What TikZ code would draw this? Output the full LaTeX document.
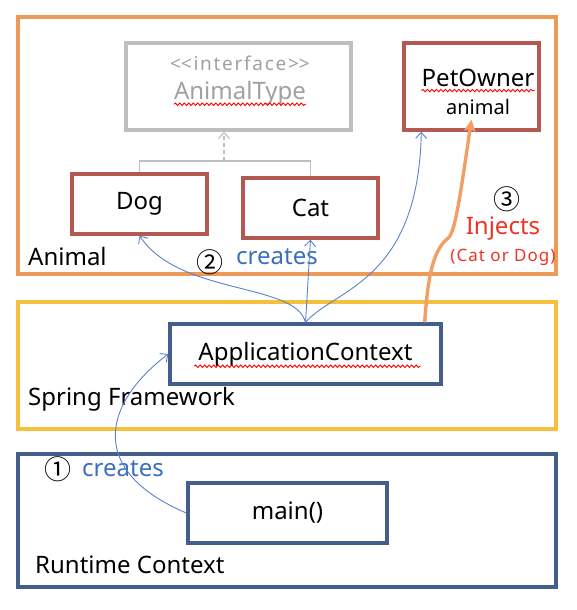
\documentclass[tikz,border=0pt]{standalone}
\usepackage{fontspec}
\setmainfont{Noto Sans}
\newfontfamily\cjk{Noto Sans CJK KR}
\usetikzlibrary{arrows.meta,decorations.pathmorphing}
\definecolor{animalline}{RGB}{237,154,86}
\definecolor{springline}{RGB}{246,191,64}
\definecolor{navyline}{RGB}{68,94,140}
\definecolor{classred}{RGB}{180,88,82}
\definecolor{ifacegray}{RGB}{191,191,191}
\definecolor{ifacetext}{RGB}{160,160,160}
\definecolor{makeblue}{RGB}{90,130,200}
\definecolor{maketext}{RGB}{58,110,190}
\definecolor{injectred}{RGB}{238,51,36}
\definecolor{injectline}{RGB}{240,160,100}

\begin{document}
\begin{tikzpicture}[x=1pt, y=1pt,
		frame/.style={draw, line width=3.2pt, minimum width=538pt, inner sep=0pt},
		cls/.style={draw=classred, line width=3.4pt, fill=white, minimum width=135pt, minimum height=60pt, inner sep=0pt, font=\fontsize{24}{28}\selectfont},
		ctx/.style={draw=navyline, line width=3.4pt, fill=white, minimum height=60pt, inner sep=0pt, font=\fontsize{24}{28}\selectfont},
		txt/.style={inner sep=0pt, font=\fontsize{24}{28}\selectfont},
		num/.style={inner sep=0pt, font=\cjk\fontsize{27}{30}\selectfont},
		wavy/.style={draw=red, line width=0.9pt, decorate, decoration={snake, amplitude=1.2pt, segment length=4.5pt}},
		make/.style={draw=makeblue, line width=0.9pt, -{Straight Barb[length=6pt, width=11pt]}},
		umlline/.style={draw=ifacegray, line width=1.1pt}
	]
			%%%%% START %%%%%
			
			\useasboundingbox (0, 0) rectangle (576, -610);
			
			% containers
			\node[frame, draw=animalline, minimum height=257pt] (animalbox) at (287, -145.5) {};
			\node[frame, draw=springline, minimum height=127pt] (springbox) at (287, -365.5) {};
			\node[frame, draw=navyline, minimum height=133pt] (runtimebox) at (287, -520.5) {};
			
			\node[txt, anchor=west] (animallbl) at (28, -256) {Animal};
			\node[txt, anchor=west] (springlbl) at (28, -399) {Spring Framework};
			\node[txt, anchor=west] (runtimelbl) at (35, -565) {Runtime Context};
			
			% classes
			\node[draw=ifacegray, line width=3.4pt, minimum width=225pt, minimum height=87pt] (iface) at (238.5, -86.5) {};
			\node[inner sep=0pt, text=ifacetext, font=\fontsize{19}{22}\selectfont\addfontfeatures{LetterSpace=9}] (ifacetag) at (240, -63) {<\kern0pt<interface>\kern0pt>};
			\node[txt, text=ifacetext] (ifacename) at (240, -93) {AnimalType};
			
			\node[cls, minimum height=87pt] (petowner) at (471.5, -86.5) {};
			\node[txt] (petname) at (478, -78) {PetOwner};
			\node[inner sep=0pt, font=\fontsize{20}{24}\selectfont] (petfield) at (478, -107) {animal};
			
			\node[cls] (dog) at (139.5, -204) {Dog};
			\node[cls] (cat) at (310.5, -208) {Cat};
			
			\coordinate (fork) at (224, -161);
			\draw[umlline] (dog.north) |- (fork) -| (cat.north);
			\draw[umlline, dash pattern=on 4pt off 3pt, -{Straight Barb[length=6pt, width=11pt]}] (fork) -- (fork |- iface.south);
			
			% spring and runtime
			\node[ctx, minimum width=271pt] (appctx) at (305.5, -354) {ApplicationContext};
			\node[ctx, minimum width=199pt] (mainfn) at (287.5, -513) {main()};
			
			% spell check marks
			\draw[wavy] ([yshift=-5pt]ifacename.base west) -- ([yshift=-5pt]ifacename.base east);
			\draw[wavy] ([yshift=-4pt]petname.base west) -- ([yshift=-4pt]petname.base east);
			\draw[wavy] ([xshift=26pt, yshift=-6pt]appctx.base west) -- ([xshift=-22pt, yshift=-6pt]appctx.base east);
			
			% step labels
			\node[num] (stepone) at (58, -469) {①};
			\node[txt, anchor=west, text=maketext] (createsone) at (82, -469) {creates};
			\node[num] (steptwo) at (210, -262) {②};
			\node[txt, anchor=west, text=maketext] (createstwo) at (236, -257) {creates};
			\node[num] (stepthree) at (507, -199) {③};
			\node[txt, text=injectred] (injects) at (503, -229) {Injects};
			\node[inner sep=0pt, text=injectred, font=\fontsize{17}{20}\selectfont\addfontfeatures{LetterSpace=6}] (injectsnote) at (503, -257) {(Cat or Dog)};
			
			% arrows
			\draw[make] (mainfn.west) .. controls +(-105, 45) and +(-60, -45) .. (appctx.west);
			\draw[make] (appctx.north) .. controls +(-10, 40) and +(40, -60) .. (dog.south);
			\draw[make] (appctx.north) .. controls +(2, 30) and +(-2, -30) .. (cat.south);
			\draw[make] (appctx.north) .. controls +(30, 34) and +(-3, -150) .. ([xshift=19pt]petowner.south west);
			
			\coordinate (bend) at (447, -239);
			\draw[draw=injectline, line width=3.4pt, -{Stealth[length=12pt, width=12pt, inset=3pt]}] ([xshift=-18pt]appctx.north east) .. controls +(3, 45) and +(-14, -12) .. (bend) .. controls +(8, 4) and +(-12, -80) .. ([yshift=12pt]petowner.south);
			
			%%%%% END %%%%%
\end{tikzpicture}
\end{document}
